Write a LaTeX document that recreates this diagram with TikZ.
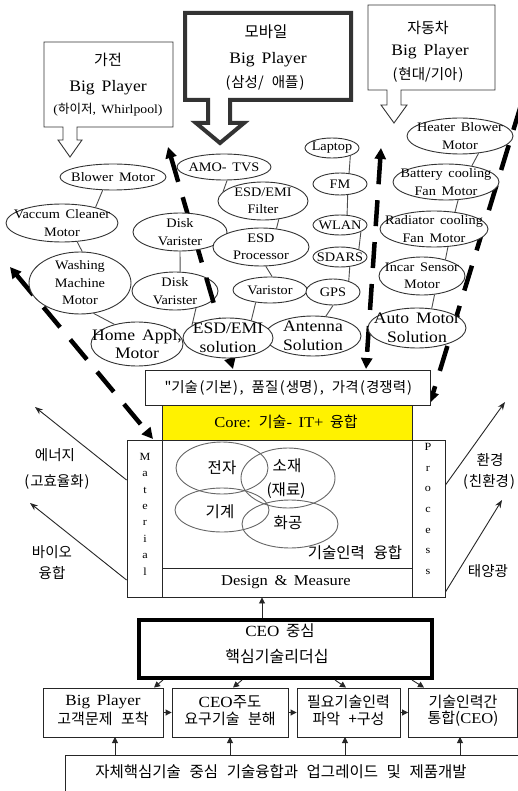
\documentclass[tikz,border=0pt]{standalone}
\usepackage{fontspec}
\setmainfont{Liberation Serif}[FakeStretch=1.1,WordSpace=1.6]
\newfontfamily\kr{Noto Sans CJK KR}[WordSpace=2.5]
\usetikzlibrary{shapes.geometric,arrows.meta}
\pgfdeclarelayer{back}
\pgfdeclarelayer{bg}
\pgfsetlayers{back,bg,main}
\newcommand{\fs}[2]{\fontsize{#1}{#2}\selectfont}
\newcommand{\LP}{\kern1.5pt(\kern1pt}
\newcommand{\RP}{\kern1pt)\kern1.5pt}
\tikzset{
  el/.style 2 args={ellipse, draw=black!80, line width=0.9pt, fill=white, inner sep=0pt, minimum width=#1, minimum height=#2},
  sm/.style={font=\fs{13}{17.5}, align=center, inner sep=0pt},
  bigt/.style={font=\fs{16}{18.5}, align=center, inner sep=0pt},
  thickdash/.style={line width=4.5pt, dash pattern=on 26pt off 16pt},
  dtips/.style={{Triangle[length=11pt,width=11pt]}-{Triangle[length=11pt,width=11pt]}},
  dtip/.style={-{Triangle[length=11pt,width=11pt]}},
  rbox/.style={draw=black!85, line width=0.9pt, fill=white, inner sep=0pt},
  txt/.style={inner sep=0pt, align=center},
  callout/.style={draw=black!80, line width=0.9pt, fill=white, line join=miter},
  link/.style={draw=black!70, line width=0.9pt},
  core/.style={ellipse, draw=black!60, line width=0.9pt, inner sep=0pt},
  sarr/.style={-{Triangle[length=6pt,width=6pt]}, line width=0.9pt, black!85},
  larr/.style={-{Stealth[length=8pt,width=6pt]}, line width=0.9pt, black!85},
}
\begin{document}
\begin{tikzpicture}[x=1pt,y=-1pt]
\useasboundingbox (0,0) rectangle (518,791);
\begin{pgfonlayer}{back}
\fill[white] (0,0) rectangle (518,791);
\end{pgfonlayer}

% ---------- callouts ----------
\draw[callout] (44,42) -- (173,42) -- (173,127) -- (77,127) -- (77,140) -- (82,140) -- (70,157) -- (58,140) -- (63,140) -- (63,127) -- (44,127) -- cycle;
\node[txt, font=\kr\fs{15}{17}] (c1a) at (108,60) {가전};
\node[txt, font=\fs{16}{18}] (c1b) at (108,88) {Big Player};
\node[txt, font=\fs{12.5}{14}] (c1c) at (108,110) {({\kr 하이저}, Whirlpool)};

\draw[callout, line width=4pt] (185,13) -- (351,13) -- (351,100) -- (230,100) -- (230,123) -- (244,123) -- (220,143) -- (196,123) -- (208,123) -- (208,100) -- (185,100) -- cycle;
\node[txt, font=\kr\fs{15.5}{17}] (c2a) at (266,32) {모바일};
\node[txt, font=\fs{16}{18}] (c2b) at (268,60) {Big Player};
\node[txt, font=\kr\fs{14.5}{16}] (c2c) at (265,83) {\LP 삼성/ 애플\RP};

\draw[callout] (368,5) -- (495,5) -- (495,90) -- (401,90) -- (401,105) -- (407,105) -- (394,123) -- (381,105) -- (387,105) -- (387,90) -- (368,90) -- cycle;
\node[txt, font=\kr\fs{15}{17}] (c3a) at (428,28) {자동차};
\node[txt, font=\fs{16}{18}] (c3b) at (430,52) {Big Player};
\node[txt, font=\kr\fs{14.5}{16}] (c3c) at (428,75) {\LP 현대/기아\RP};

% ---------- dashed lines (behind) ----------
\begin{pgfonlayer}{bg}
\node[el={86pt}{38pt}, label={[sm]center:{Disk\\Varister}}] (diskB) at (175,291) {};
\coordinate (a1) at (10,267);  \coordinate (a2) at (153,439);
\coordinate (b1) at (168,147); \coordinate (b2) at (233,369);
\coordinate (d1) at (381,148); \coordinate (d2) at (366,369);
\coordinate (f1) at (521,105); \coordinate (f2) at (430,403);
\draw[thickdash, dtips] (a1) -- (a2);
\draw[thickdash, dtips] (b1) -- (b2);
\draw[thickdash, dtips] (d1) -- (d2);
\draw[thickdash, dtip] (f1) -- (f2);
\end{pgfonlayer}

% ---------- ellipses ----------
\node[el={106pt}{26pt}, label={[sm]center:Blower Motor}] (blower) at (113,177) {};
\node[el={112pt}{38pt}, label={[sm]center:{Vaccum Cleaner\\Motor}}] (vac) at (62,223) {};
\node[el={102pt}{62pt}, label={[sm]center:{Washing\\Machine\\Motor}}] (wash) at (80,283) {};
\node[el={92pt}{44pt}, label={[bigt]center:{Home Appl,\\Motor}}] (home) at (137,344) {};
\node[el={94pt}{38pt}, label={[sm]center:{Disk\\Varister}}] (diskA) at (180,232) {};
\node[el={94pt}{26pt}, label={[sm]center:AMO- TVS}] (amo) at (224,167) {};
\node[el={90pt}{38pt}, label={[sm]center:{ESD/EMI\\Filter}}] (filter) at (263,201) {};
\node[el={96pt}{38pt}, label={[sm]center:{ESD\\Processor}}] (proc) at (261,247) {};
\node[el={74pt}{26pt}, label={[sm]center:Varistor}] (var) at (270,290) {};
\node[el={96pt}{40pt}, label={[bigt]center:{Antenna\\Solution}}] (ant) at (313,336) {};
\node[el={90pt}{40pt}, label={[bigt]center:{ESD/EMI\\solution}}] (esdsol) at (228,338) {};
\node[el={54pt}{20pt}, label={[sm]center:Laptop}] (laptop) at (332,148) {};
\node[el={54pt}{22pt}, label={[sm]center:FM}] (fm) at (340,184) {};
\node[el={54pt}{20pt}, label={[sm]center:WLAN}] (wlan) at (340,225) {};
\node[el={54pt}{20pt}, label={[sm]center:SDARS}] (sdars) at (340,257) {};
\node[el={54pt}{26pt}, label={[sm]center:GPS}] (gps) at (333,292) {};
\node[el={106pt}{36pt}, label={[sm]center:{Heater Blower\\Motor}}] (heater) at (460,136) {};
\node[el={106pt}{36pt}, label={[sm]center:{Battery cooling\\Fan Motor}}] (battery) at (446,182) {};
\node[el={108pt}{36pt}, label={[sm]center:{Radiator cooling\\Fan Motor}}] (rad) at (434,229) {};
\node[el={86pt}{38pt}, label={[sm]center:{Incar Sensor\\Motor}}] (incar) at (422,276) {};
\node[el={98pt}{40pt}, label={[bigt]center:{Auto Motor\\Solution}}] (auto) at (417,328) {};

% ---------- ellipse links ----------
\draw[link] (blower.232) -- (vac.25);
\draw[link] (vac.309) -- (wash.86);
\draw[link] (wash.294) -- (home.139);
\draw[link] (diskA.270) -- (diskB.75);
\draw[link] (diskB.321) -- (esdsol.161);
\draw[link] (amo.283) -- (filter.167);
\draw[link] (filter.311) -- (proc.50);
\draw[link] (proc.284) -- (var.81);
\draw[link] (var.221) -- (esdsol.37);
\draw[link] (laptop.337) -- (fm.50);
\draw[link] (fm.305) -- (wlan.55);
\draw[link] (wlan.342) -- (sdars.22);
\draw[link] (sdars.315) -- (gps.35);
\draw[link] (gps.270) -- (ant.57);
\draw[link] (heater.317) -- (battery.32);
\draw[link] (battery.304) -- (rad.39);
\draw[link] (rad.308) -- (incar.35);
\draw[link] (incar.304) -- (auto.53);

% ---------- core block ----------
\node[rbox, minimum width=285pt, minimum height=35pt] (qbox) at (287.5,387.5) {};
\node[txt, font=\kr\fs{14.5}{16}] (qtxt) at (289,388) {"기술\LP 기본\RP, 품질\LP 생명\RP, 가격\LP 경쟁력\RP};
\node[rbox, fill=yellow, minimum width=250pt, minimum height=35pt] (corebox) at (287,422.5) {};
\node[txt, font=\fs{15}{16}] (coretxt) at (286,422) {Core: {\kr 기술}- IT+ {\kr 융합}};
\node[rbox, minimum width=250pt, minimum height=128pt] (mainb) at (287,504) {};
\node[rbox, minimum width=250pt, minimum height=29pt] (des) at (287,582.5) {};
\node[txt, font=\fs{15}{16}] (destxt) at (286,582) {Design \& Measure};
\node[rbox, minimum width=35pt, minimum height=157pt] (mat) at (144.5,518.5) {};
\node[rbox, minimum width=33pt, minimum height=157pt] (prc) at (428.5,518.5) {};
\node[txt, font=\fs{11}{16.4}] (matl) at (145,514) {M\\a\\t\\e\\r\\i\\a\\l};
\node[txt, font=\fs{11}{20.7}] (prcl) at (428,509) {P\\r\\o\\c\\e\\s\\s};

\node[core, minimum width=92pt, minimum height=52pt] (ejz) at (222,468) {};
\node[core, minimum width=94pt, minimum height=60pt] (esj) at (288,478) {};
\node[core, minimum width=94pt, minimum height=44pt] (egg) at (222,510) {};
\node[core, minimum width=96pt, minimum height=48pt] (ehg) at (290,524) {};
\node[txt, font=\kr\fs{15.5}{17}] (tjz) at (222,468) {전자};
\node[txt, font=\kr\fs{15.5}{17}] (tsj) at (287,466) {소재};
\node[txt, font=\kr\fs{15.5}{17}] (tjr) at (286,491) {(재료)};
\node[txt, font=\kr\fs{15.5}{17}] (tgg) at (220,512) {기계};
\node[txt, font=\kr\fs{15.5}{17}] (thg) at (288,523) {화공};
\node[txt, font=\kr\fs{15.5}{17}] (tgs) at (355,553) {기술인력 융합};

% ---------- side labels & arrows ----------
\node[txt, font=\kr\fs{14.5}{16}] (lb1) at (55,455) {에너지};
\node[txt, font=\kr\fs{14.5}{16}] (lb2) at (57,482) {\LP 고효율화\RP};
\node[txt, font=\kr\fs{14.5}{16}] (lb3) at (52,552) {바이오};
\node[txt, font=\kr\fs{14.5}{16}] (lb4) at (52,573) {융합};
\node[txt, font=\kr\fs{14.5}{16}] (rb1) at (490,460) {환경};
\node[txt, font=\kr\fs{14.5}{16}] (rb2) at (489,482) {\LP 친환경\RP};
\node[txt, font=\kr\fs{14.5}{16}] (rb3) at (488,571) {태양광};
\coordinate (g1) at (35,407);
\coordinate (g2) at (30,503);
\coordinate (g3) at (505,402);
\coordinate (g4) at (502,500);
\draw[larr] ([yshift=38.5pt]mat.west) -- (g1);
\draw[larr] ([yshift=-61.5pt]mat.west) -- (g2);
\draw[larr] ([yshift=33.5pt]prc.east) -- (g3);
\draw[larr] ([yshift=-73.5pt]prc.east) -- (g4);

% ---------- CEO & process row ----------
\node[draw=black, line width=4pt, fill=white, minimum width=293pt, minimum height=58pt, inner sep=0pt] (ceo) at (285.5,649) {};
\node[txt, font=\fs{15.5}{17}] (ceo1) at (280,631) {CEO {\kr 중심}};
\node[txt, font=\kr\fs{16}{17}] (ceo2) at (277,657) {핵심기술리더십};
\draw[sarr] ([xshift=-23.5pt]ceo.north) -- ([xshift=-25pt]des.south);

\node[rbox, minimum width=120pt, minimum height=49pt] (p1) at (103,712.5) {};
\node[rbox, minimum width=116pt, minimum height=49pt] (p2) at (230,712.5) {};
\node[rbox, minimum width=103pt, minimum height=49pt] (p3) at (348.5,712.5) {};
\node[rbox, minimum width=109pt, minimum height=49pt] (p4) at (463,712.5) {};
\node[txt, font=\fs{15.5}{17}] (p1a) at (103,702) {Big Player};
\node[txt, font=\kr\fs{15}{17}] (p1b) at (103,719) {고객문제 포착};
\node[txt, font=\fs{15.5}{17}] (p2a) at (230,702) {CEO{\kr 주도}};
\node[txt, font=\kr\fs{15}{17}] (p2b) at (230,719) {요구기술 분해};
\node[txt, font=\kr\fs{15}{17}] (p3a) at (348.5,702) {필요기술인력};
\node[txt, font=\kr\fs{15}{17}] (p3b) at (348.5,719) {파악 +구성};
\node[txt, font=\kr\fs{15}{17}] (p4a) at (463,702) {기술인력간};
\node[txt, font=\kr\fs{15}{17}] (p4b) at (463,719) {통합({\rmfamily CEO})};
\draw[sarr] (p1) -- (p2);
\draw[sarr] (p2) -- (p3);
\draw[sarr] (p3) -- (p4);
\draw[sarr] ([xshift=-122.5pt]ceo.south) -- ([xshift=51pt]p1.north);
\draw[sarr] ([xshift=-43.5pt]ceo.south) -- ([xshift=3pt]p2.north);
\draw[sarr] ([xshift=49.5pt]ceo.south) -- ([xshift=-2.5pt]p3.north);
\draw[sarr] ([xshift=126.5pt]ceo.south) -- ([xshift=-39pt]p4.north);

\node[rbox, minimum width=470pt, minimum height=50pt, anchor=north west] (bot) at (65,755) {};
\node[txt, font=\kr\fs{15.5}{17}] (bottxt) at (281,772) {자체핵심기술 중심 기술융합과 업그레이드 및 제품개발};
\coordinate (u1) at (115,737);
\coordinate (u2) at (230,737);
\coordinate (u3) at (345,737);
\coordinate (u4) at (460,737);
\draw[sarr] (bot.north -| u1) -- (u1);
\draw[sarr] (bot.north -| u2) -- (u2);
\draw[sarr] (bot.north -| u3) -- (u3);
\draw[sarr] (bot.north -| u4) -- (u4);
\end{tikzpicture}
\end{document}
